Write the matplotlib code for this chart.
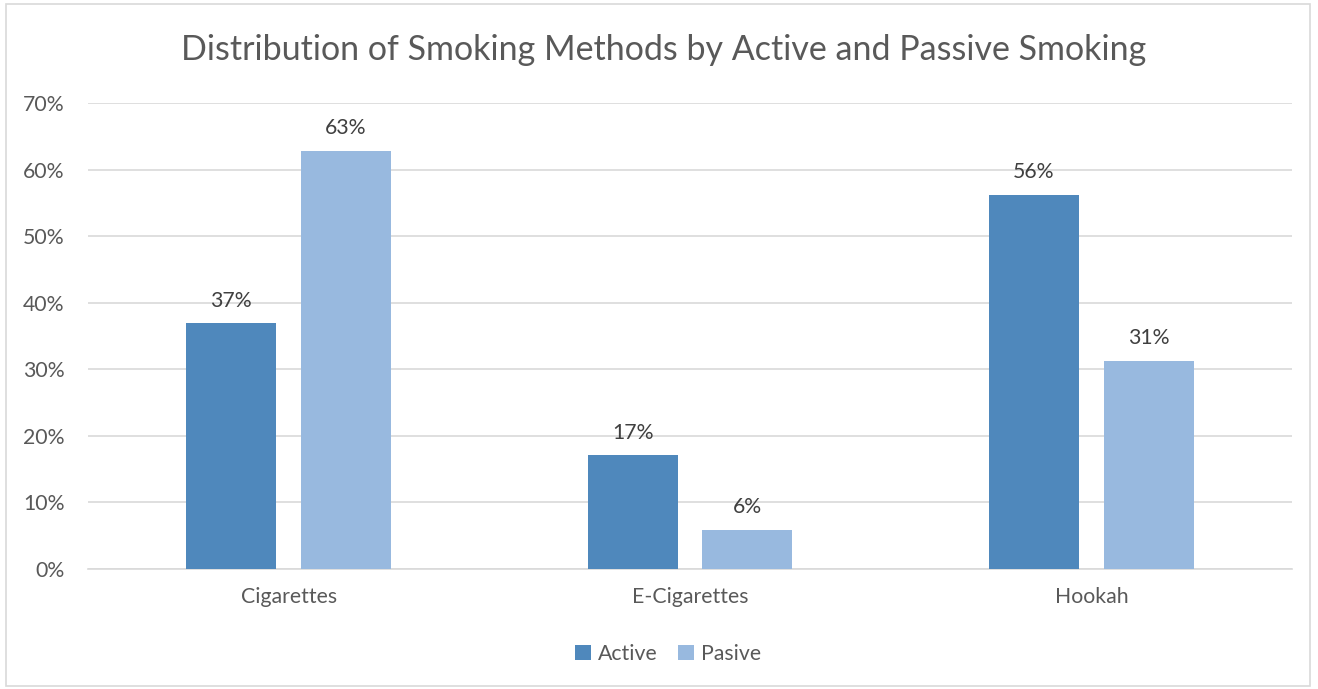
import matplotlib
matplotlib.use("Agg")
import matplotlib.pyplot as plt
import numpy as np
from matplotlib.patches import Rectangle

categories = ["Cigarettes", "E-Cigarettes", "Hookah"]
active = [36.9, 17.1, 56.2]
passive = [62.8, 5.9, 31.3]
series_names = ["Active", "Pasive"]
yticks = [0, 10, 20, 30, 40, 50, 60, 70]

plt.rcParams['font.family'] = ['Lato', 'DejaVu Sans']
txt = '#595959'
fs = 15.3

fig = plt.figure(figsize=(13.18, 6.89), dpi=100)
W, H = 1318, 689
ax = fig.add_axes([88 / W, 1 - 569 / H, (1292 - 88) / W, (569 - 103) / H])

x = np.arange(len(categories))
bw = 0.224
off = 0.143
b1 = ax.bar(x - off, active, bw, color='#4F88BC', label=series_names[0], zorder=3)
b2 = ax.bar(x + off, passive, bw, color='#98B9DF', label=series_names[1], zorder=3)

for bars, vals in ((b1, active), (b2, passive)):
    for r, v in zip(bars, vals):
        ax.annotate(f"{v:.0f}%", (r.get_x() + r.get_width() / 2, v), xytext=(0, 9),
                    textcoords='offset points', ha='center', va='bottom', fontsize=fs, color='#404040')

ax.set_xlim(-0.5, 2.5)
ax.set_ylim(0, 70)
ax.set_yticks(yticks)
ax.set_yticklabels([f"{t}%" for t in yticks], fontsize=fs, color=txt)
ax.set_xticks(x)
ax.set_xticklabels(categories, fontsize=fs, color=txt)
ax.tick_params(axis='both', length=0)
ax.tick_params(axis='y', pad=17)
ax.tick_params(axis='x', pad=13)
ax.grid(axis='y', color='#D9D9D9', linewidth=1.2, zorder=0)
for s in ['top', 'right', 'left']:
    ax.spines[s].set_visible(False)
ax.spines['bottom'].set_color('#D9D9D9')
ax.spines['bottom'].set_linewidth(1.2)

fig.text(664 / W, 1 - 50 / H, "Distribution of Smoking Methods by Active and Passive Smoking",
         ha='center', va='center', fontsize=24.5, color=txt)

leg = fig.legend(handles=[b1, b2], labels=series_names, loc='center', bbox_to_anchor=(668 / W, 1 - 654 / H),
                 ncol=2, frameon=False, fontsize=fs, handlelength=0.75, handleheight=0.75,
                 handletextpad=0.3, columnspacing=1.0)
for t in leg.get_texts():
    t.set_color(txt)

fig.add_artist(Rectangle((6 / W, 3 / H), 1304 / W, 682 / H, transform=fig.transFigure,
                         fill=False, edgecolor='#D9D9D9', linewidth=1.2))

fig.savefig("out.png", dpi=100)
